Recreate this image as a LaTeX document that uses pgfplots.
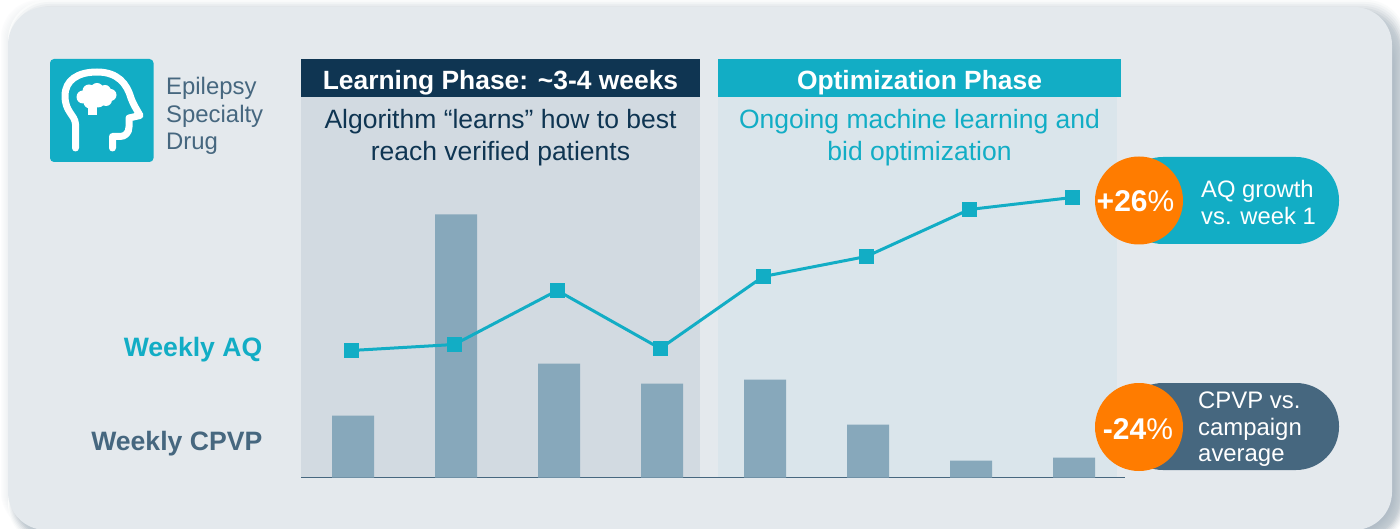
\documentclass[border=0pt]{standalone}
\usepackage{pgfplots}
\pgfplotsset{compat=1.18}
\usepackage{fontspec}
\setmainfont{Liberation Sans}
\definecolor{panel}{HTML}{E4E9ED}
\definecolor{teal}{HTML}{12ADC5}
\definecolor{navy}{HTML}{0F3552}
\definecolor{slate}{HTML}{46677F}
\definecolor{learn}{HTML}{D2DAE1}
\definecolor{optim}{HTML}{DAE5EB}
\definecolor{barc}{HTML}{87A8BB}
\definecolor{orng}{HTML}{FF7C00}
\newcommand{\fs}[1]{\fontsize{#1}{#1}\selectfont}
\pgfplotstableread{
x cpvp
0 62
1 263
2 114
3 94
4 98
5 53
6 17
7 20
}\cpvptable
\pgfplotstableread{
x aq
-0.017 127
0.983 133
1.983 187
2.983 129
3.983 201
4.983 221
5.983 268
6.983 280
}\aqtable
\begin{document}
\begin{tikzpicture}[x=1pt,y=1pt]
\useasboundingbox (0,0) rectangle (1400,-529);
\clip (0,0) rectangle (1400,-529);
\fill[white] (0,0) rectangle (1400,-529);
% soft glow to the left and top of the panel
\foreach \d/\c in {7/FCFCFD,6/FAFBFB,5/F8F9FA,4/F6F7F8,3/F4F6F7,2/F2F4F5,1/F0F2F4,0/EEF1F3}{
  \definecolor{shc}{HTML}{\c}
  \fill[shc,rounded corners=38pt] (8-\d,-7+\d) rectangle (1392,-530);
}
% darker shadow to the right and below
\foreach \k/\c in {14/FAFBFB,13/F3F5F6,12/EBEEF0,11/E2E6E9,10/D8DDE1,9/CDD4D9,8/C4CDD4,7/C1CAD1,6/BEC8CF,5/BBC5CD,4/B8C3CB,3/B5C0C9,2/B3BEC8,1/B1BDC7,0/AFBCC6}{
  \definecolor{shc}{HTML}{\c}
  \pgfmathsetmacro{\L}{22-\k}
  \pgfmathsetmacro{\R}{1392+\k}
  \pgfmathsetmacro{\T}{-28+2*\k}
  \pgfmathsetmacro{\B}{-530-\k}
  \fill[shc,rounded corners=40pt] (\L,\T) rectangle (\R,\B);
}
\fill[panel,rounded corners=38pt] (8,-7) rectangle (1392,-530);
% phase backgrounds
\fill[learn] (301,-97) rectangle (700,-477);
\fill[optim] (718,-97) rectangle (1117,-477);
\fill[navy] (301,-59) rectangle (700,-97);
\fill[teal] (718,-59) rectangle (1121,-97);
% headers
\node[anchor=base,text=white,inner sep=0] at (500.5,-89.5) {\fs{26.4}\bfseries Learning Phase: \textasciitilde 3-4 weeks};
\node[anchor=base,text=white,inner sep=0] at (919.5,-89.5) {\fs{26.4}\bfseries Optimization Phase};
\node[anchor=base,text=navy,inner sep=0] at (500.5,-129) {\fs{26.5}Algorithm “learns” how to best};
\node[anchor=base,text=navy,inner sep=0] at (500.5,-161) {\fs{26.5}reach verified patients};
\node[anchor=base,text=teal,inner sep=0] at (919.5,-129) {\fs{26.5}Ongoing machine learning and};
\node[anchor=base,text=teal,inner sep=0] at (919.5,-161) {\fs{26.5}bid optimization};
% row labels
\node[anchor=base east,text=teal,inner sep=0] at (262.5,-356) {\fs{26.6}\bfseries Weekly AQ};
\node[anchor=base east,text=slate,inner sep=0] at (262.5,-450) {\fs{26.6}\bfseries Weekly CPVP};
% icon
\fill[teal,rounded corners=4pt] (50,-59) rectangle (153.5,-162);
\draw[white,line width=7pt,line cap=round,line join=round]
  (75.5,-148) -- (75.5,-124) .. controls (75,-115) and (65,-112) .. (65,-96)
  .. controls (65,-80) and (78,-72) .. (97,-72)
  .. controls (118,-72) and (127,-84) .. (131,-98)
  .. controls (133,-104) and (137,-110) .. (140,-115.5)
  -- (129,-118) -- (129,-127) .. controls (129,-133) and (125,-136.5) .. (120,-136.5)
  -- (112.5,-136.5) -- (112.5,-148);
\fill[white] (88,-105) rectangle (97,-115);
\foreach \a/\b/\r in {83/-97/6.5,89/-91/6.5,97/-89.5/6.5,105/-91/6,110.5/-95/6,106/-100/6,98/-100/7.5,90/-102/6.5}{
  \fill[white] (\a,\b) circle[radius=\r];
}
% icon label
\node[anchor=base west,text=slate,inner sep=0] at (166,-95) {\fs{23.9}Epilepsy};
\node[anchor=base west,text=slate,inner sep=0] at (166,-123) {\fs{23.9}Specialty};
\node[anchor=base west,text=slate,inner sep=0] at (166,-150) {\fs{23.9}Drug};
% chart
\begin{axis}[
  at={(301pt,-477.5pt)},anchor=south west,
  scale only axis,width=824pt,height=300pt,
  xmin=-0.505,xmax=7.495,ymin=0,ymax=300,
  axis x line=bottom,axis y line=none,
  axis line style={draw=slate,line width=1.6pt,-},
  xtick=\empty,ytick=\empty,clip=false,
]
\addplot[ybar,bar width=42pt,fill=barc,draw=none] table[x=x,y=cpvp] {\cpvptable};
\addplot[sharp plot,color=teal,line width=3pt,mark=square*,mark size=6.2pt,mark options={fill=teal,draw=none}] table[x=x,y=aq] {\aqtable};
\end{axis}
% pills
\fill[teal,rounded corners=43pt] (1120,-157) rectangle (1339,-244);
\fill[orng] (1139,-200.5) circle[radius=44];
\node[anchor=base,text=white,inner sep=0] at (1135.5,-212) {\fs{30}\textbf{+26}\%};
\node[anchor=base west,text=white,inner sep=0] at (1201,-197.5) {\fs{23.8}AQ growth};
\node[anchor=base west,text=white,inner sep=0] at (1201,-225) {\fs{23.8}vs. week 1};
\fill[slate,rounded corners=43pt] (1120,-383) rectangle (1339,-470);
\fill[orng] (1139,-427) circle[radius=44];
\node[anchor=base,text=white,inner sep=0] at (1138,-439) {\fs{30}\textbf{-24}\%};
\node[anchor=base west,text=white,inner sep=0] at (1198,-408) {\fs{23.9}CPVP vs.};
\node[anchor=base west,text=white,inner sep=0] at (1198,-435) {\fs{23.9}campaign};
\node[anchor=base west,text=white,inner sep=0] at (1198,-461) {\fs{23.9}average};
\end{tikzpicture}
\end{document}
